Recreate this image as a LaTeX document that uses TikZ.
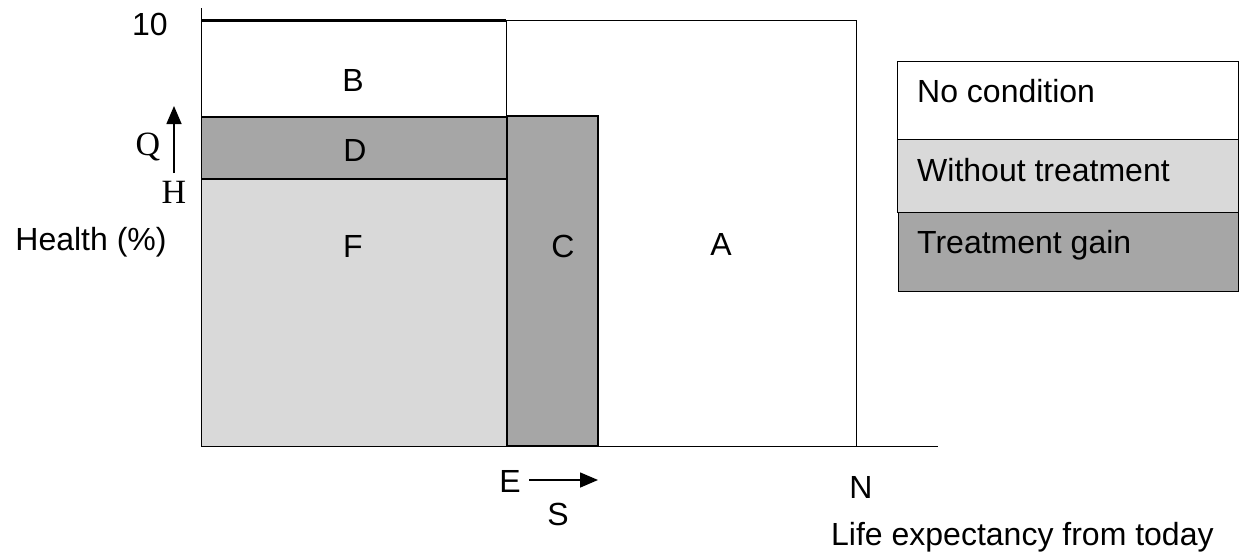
\documentclass[tikz,border=0pt]{standalone}
\usepackage{fontspec}
\setmainfont{Liberation Sans}
\newfontfamily\serifft{Liberation Serif}
\usetikzlibrary{arrows.meta}
\definecolor{darkg}{HTML}{A6A6A6}
\definecolor{lightg}{HTML}{D9D9D9}
\begin{document}
\begin{tikzpicture}[x=1pt,y=-1pt,
  lbl/.style={inner sep=0pt,font=\fontsize{32}{38}\selectfont},
  slbl/.style={inner sep=0pt,font=\serifft\fontsize{34}{40}\selectfont},
  thin line/.style={line width=1pt},
  thick line/.style={line width=2pt},
  arr/.style={line width=1.6pt,-{Triangle[length=18pt,width=15pt]}}]
\useasboundingbox (0,0) rectangle (1243,555);
% regions
\fill[lightg] (201,179) rectangle (506,446);
\fill[darkg] (201,117) rectangle (506,179);
\fill[darkg] (507,116) rectangle (598,446);
% outer box and axes
\draw[thin line] (201,8) -- (201,446) -- (938,446);
\draw[thin line] (506,20) -- (856,20) -- (856,446);
\draw[line width=3pt] (201,20) -- (506,20);
\draw[thin line] (506,20) -- (506,117);
\draw[thick line] (201,117) -- (506,117);
\draw[thick line] (201,179) -- (507,179);
\draw[thick line] (507,116) rectangle (598,446);
% labels
\node[lbl] (ten) at (150,24) {10};
\node[lbl] (B) at (353,80) {B};
\node[lbl] (D) at (355,150) {D};
\node[lbl] (F) at (353,246) {F};
\node[lbl] (C) at (563,246) {C};
\node[lbl] (A) at (721,244) {A};
\node[lbl] (health) at (91,242) {Health (\%)};
\node[slbl] (Q) at (148,147) {Q};
\node[slbl] (H) at (174,192) {H};
\coordinate (qs) at (174,173);
\coordinate (qe) at (174,106);
\draw[arr] (qs) -- (qe);
\node[lbl] (E) at (510,481) {E};
\coordinate (es) at (529,480);
\coordinate (ee) at (598,480);
\draw[arr] (es) -- (ee);
\node[lbl] (S) at (558,514) {S};
\node[lbl] (N) at (861,487) {N};
\node[lbl,anchor=west] (life) at (831,537) {Life expectancy from today};
% legend
\draw[thin line,fill=white] (897,61) rectangle (1238,139);
\draw[thin line,fill=lightg] (897,139) rectangle (1238,212);
\draw[thin line,fill=darkg] (898,212) rectangle (1238,291);
\node[lbl,anchor=west] (l1) at (917,91) {No condition};
\node[lbl,anchor=west] (l2) at (917,170) {Without treatment};
\node[lbl,anchor=west] (l3) at (917,245) {Treatment gain};
\end{tikzpicture}
\end{document}
